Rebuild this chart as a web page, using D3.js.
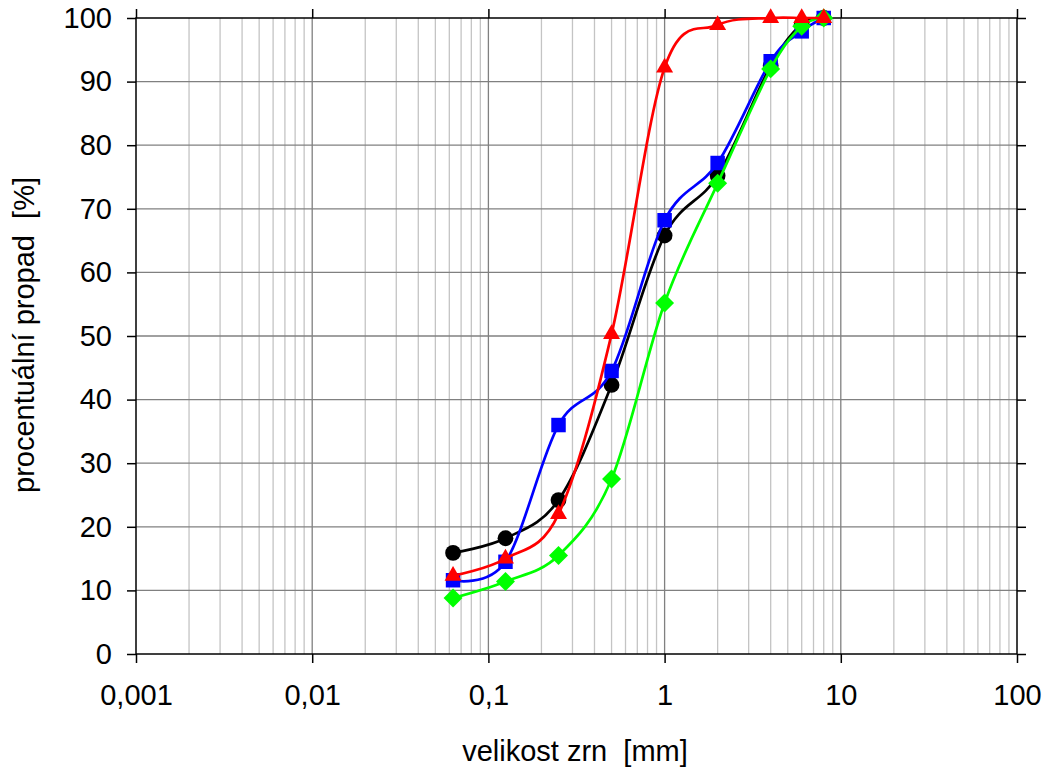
<!DOCTYPE html>
<html><head>
<meta charset="utf-8">
<script src="https://d3js.org/d3.v7.min.js"></script>
<style>
  body { margin: 0; background: #fff; }
  text { font-family: "Liberation Sans", Arial, sans-serif; fill: #000; white-space: pre; }
</style>
</head>
<body>
<svg id="plot" width="1048" height="773"></svg>
<script>
// sieve sizes [mm]
const sizes = [0.063, 0.125, 0.25, 0.5, 1, 2, 4, 6, 8];

// cumulative passing [%]
const black = [15.9, 18.2, 24.2, 42.3, 65.8, 75.2, 92.5, 99, 100];
const blue  = [11.6, 14.5, 36, 44.5, 68.2, 77.2, 93.2, 97.9, 100];
const green = [8.8, 11.4, 15.5, 27.5, 55.2, 74, 92, 98.7, 100];
const red   = [12.3, 15, 22, 50.3, 92.2, 98.9, 100, 100, 100];

const xTicks = [0.001, 0.01, 0.1, 1, 10, 100];
const xTickLabels = ["0,001", "0,01", "0,1", "1", "10", "100"];
const yTicks = d3.range(0, 101, 10);

const svg = d3.select("svg#plot");
const margin = {top: 18, right: 31, bottom: 119, left: 136};
const width = 1048, height = 773;
const chartWidth = width - margin.left - margin.right;
const chartHeight = height - margin.top - margin.bottom;

const chart = svg.append("g")
  .attr("transform", "translate(" + margin.left + "," + margin.top + ")");

const x = d3.scaleLog().domain([0.001, 100]).range([0, chartWidth]);
const y = d3.scaleLinear().domain([0, 100]).range([chartHeight, 0]);

// minor vertical grid
let minor = [];
for (let e = -3; e < 2; e++) {
  for (let m = 2; m <= 9; m++) minor.push(m * Math.pow(10, e));
}
chart.append("g").selectAll("line").data(minor).join("line")
  .attr("x1", d => x(d)).attr("x2", d => x(d))
  .attr("y1", 0).attr("y2", chartHeight)
  .attr("stroke", "#c4c4c4").attr("stroke-width", 1.3);

// major grid
chart.append("g").selectAll("line").data(xTicks.slice(1, -1)).join("line")
  .attr("x1", d => x(d)).attr("x2", d => x(d))
  .attr("y1", 0).attr("y2", chartHeight)
  .attr("stroke", "#808080").attr("stroke-width", 1.3);
chart.append("g").selectAll("line").data(yTicks.slice(1, -1)).join("line")
  .attr("x1", 0).attr("x2", chartWidth)
  .attr("y1", d => y(d)).attr("y2", d => y(d))
  .attr("stroke", "#808080").attr("stroke-width", 1.3);

// frame
chart.append("rect")
  .attr("width", chartWidth).attr("height", chartHeight)
  .attr("fill", "none").attr("stroke", "#000").attr("stroke-width", 1.5);

// axes
const yAxis = d3.axisLeft(y).tickValues(yTicks).tickSize(9).tickPadding(15);
const xAxis = d3.axisBottom(x).tickValues(xTicks)
  .tickFormat((d, i) => xTickLabels[i]).tickSize(9).tickPadding(21);

const gy = chart.append("g").call(yAxis);
const gx = chart.append("g").attr("transform", "translate(0," + chartHeight + ")").call(xAxis);
chart.append("g").attr("transform", "translate(" + chartWidth + ",0)")
  .call(d3.axisRight(y).tickValues(yTicks).tickSize(9).tickFormat(""));
chart.append("g")
  .call(d3.axisTop(x).tickValues(xTicks).tickSize(9).tickFormat(""));

[gy, gx].forEach(g => {
  g.attr("font-size", null).attr("font-family", null);
  g.selectAll("text").style("font-size", "29px");
});
chart.selectAll(".domain").remove();
chart.selectAll(".tick line").attr("stroke", "#000").attr("stroke-width", 1.5);

// axis titles
svg.append("text")
  .attr("x", 575).attr("y", 761)
  .attr("text-anchor", "middle").style("font-size", "29px")
  .text("velikost zrn  [mm]");
svg.append("text")
  .attr("transform", "translate(34,335) rotate(-90)")
  .attr("text-anchor", "middle").style("font-size", "29px")
  .text("procentuální propad  [%]");

// series
const line = d3.line()
  .x(d => x(d[0])).y(d => y(d[1]))
  .curve(d3.curveCatmullRom.alpha(0));

// square-ish diamond like the spreadsheet marker
const diamond = {
  draw(ctx, size) {
    const r = Math.sqrt(size / 2);
    ctx.moveTo(0, -r); ctx.lineTo(r, 0); ctx.lineTo(0, r); ctx.lineTo(-r, 0); ctx.closePath();
  }
};

const series = [
  {vals: black, color: "#000000", sym: d3.symbolCircle, size: 195},
  {vals: blue, color: "#0000ff", sym: d3.symbolSquare, size: 210},
  {vals: green, color: "#00ff00", sym: diamond, size: 180},
  {vals: red, color: "#ff0000", sym: d3.symbolTriangle, size: 125}
];

series.forEach(s => {
  const pts = sizes.map((d, i) => [d, s.vals[i]]);
  const g = chart.append("g");
  g.append("path")
    .attr("d", line(pts))
    .attr("fill", "none").attr("stroke", s.color).attr("stroke-width", 2.7);
  g.selectAll("path.m").data(pts).join("path")
    .attr("class", "m")
    .attr("d", d3.symbol().type(s.sym).size(s.size))
    .attr("transform", d => "translate(" + x(d[0]) + "," + y(d[1]) + ")")
    .attr("fill", s.color);
});
</script>
</body>
</html>
